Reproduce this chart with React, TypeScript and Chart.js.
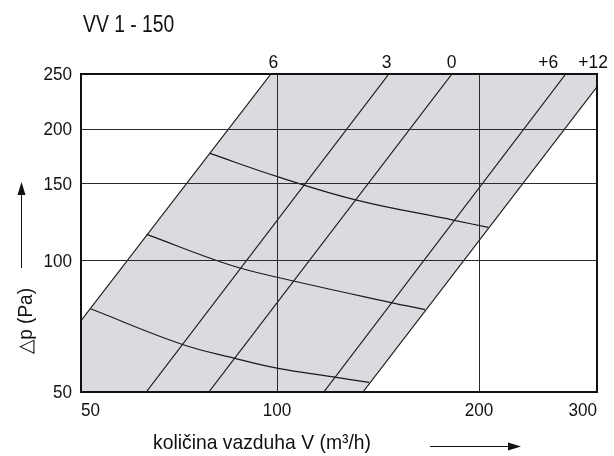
import React, { useEffect, useRef } from 'react';
import { Chart, registerables } from 'chart.js';

Chart.register(...registerables);

const FONT = "'Liberation Sans', Arial, sans-serif";

// Titles
const TITLE = 'VV 1 - 150';
const X_TITLE = 'količina vazduha V (m³/h)';
const Y_TITLE = '△p (Pa)';

// Axis ranges (log-log) and tick labels as printed
const X_MIN = 51;
const X_MAX = 300;
const Y_MIN = 50;
const Y_MAX = 267;
const X_TICKS = [51, 100, 200, 300];
const X_TICK_LABELS = ['50', '100', '200', '300'];
const X_GRID = [100, 200];
const Y_TICKS = [50, 100, 150, 200, 267];
const Y_TICK_LABELS = ['50', '100', '150', '200', '250'];
const Y_GRID = [100, 150, 200];

// Diagonal (setting) lines: Δp ∝ V²
const DIAG_NAMES = ['6', '3', '0', '+6', '+12'];
const DIAG_LABEL_X = [98.7, 145.7, 182.1, 253.7, 296.0];
const DIAG_6 = [{ x: 51, y: 72.8 }, { x: 97.9, y: 267 }];
const DIAG_3 = [{ x: 63.8, y: 50 }, { x: 146.8, y: 267 }];
const DIAG_0 = [{ x: 79.1, y: 50 }, { x: 182.3, y: 267 }];
const DIAG_P6 = [{ x: 117.4, y: 50 }, { x: 269.5, y: 267 }];
const DIAG_P12 = [{ x: 134.3, y: 50 }, { x: 300, y: 249.5 }];

// Shaded working region
const REGION = [
  { x: 51, y: 72.8 },
  { x: 97.9, y: 267 },
  { x: 300, y: 267 },
  { x: 300, y: 249.5 },
  { x: 134.3, y: 50 },
  { x: 51, y: 50 },
];

// Curved lines
const CURVE_1 = [
  { x: 79.4, y: 175.7 },
  { x: 100.4, y: 155.3 },
  { x: 131.4, y: 137.4 },
  { x: 183.1, y: 123.7 },
  { x: 206.5, y: 119.0 },
];
const CURVE_2 = [
  { x: 63.9, y: 114.7 },
  { x: 85.1, y: 97.6 },
  { x: 100.4, y: 91.4 },
  { x: 147.3, y: 80.2 },
  { x: 166.2, y: 77.2 },
];
const CURVE_3 = [
  { x: 52.7, y: 77.5 },
  { x: 72.1, y: 64.3 },
  { x: 86.5, y: 59.7 },
  { x: 100.4, y: 56.6 },
  { x: 120.6, y: 54.2 },
  { x: 137.2, y: 52.6 },
];

const LINE_COLOR = '#1a1a1a';
const FILL_COLOR = '#dadbde';
const TEXT_COLOR = '#111';

function drawText(
  ctx: CanvasRenderingContext2D,
  text: string,
  x: number,
  y: number,
  size: number,
  sx: number,
  align: CanvasTextAlign,
  baseline: CanvasTextBaseline = 'alphabetic'
) {
  ctx.save();
  ctx.font = `${size}px ${FONT}`;
  ctx.textAlign = align;
  ctx.textBaseline = baseline;
  ctx.translate(x, y);
  ctx.scale(sx, 1);
  ctx.fillText(text, 0, 0);
  ctx.restore();
}

export default function App() {
  const ref = useRef<HTMLCanvasElement>(null);

  useEffect(() => {
    const canvas = ref.current!;
    const overlay = {
      id: 'overlay',
      afterDatasetsDraw(chart: any) {
        const ctx = chart.ctx as CanvasRenderingContext2D;
        const ca = chart.chartArea;
        const xs = chart.scales.x;
        const ys = chart.scales.y;
        ctx.save();
        ctx.strokeStyle = '#2a2a2a';
        ctx.lineWidth = 1;
        X_GRID.forEach((v) => {
          const px = Math.round(xs.getPixelForValue(v)) + 0.5;
          ctx.beginPath();
          ctx.moveTo(px, ca.top);
          ctx.lineTo(px, ca.bottom);
          ctx.stroke();
        });
        Y_GRID.forEach((v) => {
          const py = Math.round(ys.getPixelForValue(v)) + 0.5;
          ctx.beginPath();
          ctx.moveTo(ca.left, py);
          ctx.lineTo(ca.right, py);
          ctx.stroke();
        });
        ctx.restore();
      },
      afterDraw(chart: any) {
        const ctx = chart.ctx as CanvasRenderingContext2D;
        const ca = chart.chartArea;
        const xs = chart.scales.x;
        const ys = chart.scales.y;
        ctx.save();
        ctx.strokeStyle = '#111';
        ctx.lineWidth = 2;
        ctx.strokeRect(ca.left, ca.top, ca.right - ca.left, ca.bottom - ca.top);

        ctx.fillStyle = TEXT_COLOR;
        // labels of the diagonal lines
        DIAG_NAMES.forEach((n, i) => {
          drawText(ctx, n, xs.getPixelForValue(DIAG_LABEL_X[i]), 68, 19, 0.92, 'center');
        });
        // y tick labels
        Y_TICKS.forEach((v, i) => {
          drawText(ctx, Y_TICK_LABELS[i], ca.left - 9, ys.getPixelForValue(v) + 1, 19, 0.9, 'right', 'middle');
        });
        // x tick labels (inner aligned)
        X_TICKS.forEach((v, i) => {
          const align: CanvasTextAlign = i === 0 ? 'left' : i === X_TICKS.length - 1 ? 'right' : 'center';
          drawText(ctx, X_TICK_LABELS[i], xs.getPixelForValue(v), 416, 19, 0.9, align);
        });

        drawText(ctx, TITLE, 83, 32, 23, 0.84, 'left');
        drawText(ctx, X_TITLE, 153, 449, 21, 0.92, 'left');

        // x arrow
        ctx.strokeStyle = '#111';
        ctx.lineWidth = 1;
        ctx.beginPath();
        ctx.moveTo(430, 446.5);
        ctx.lineTo(510, 446.5);
        ctx.stroke();
        ctx.beginPath();
        ctx.moveTo(521, 446.5);
        ctx.lineTo(508, 442.5);
        ctx.lineTo(508, 450.5);
        ctx.closePath();
        ctx.fill();

        // y arrow
        ctx.beginPath();
        ctx.moveTo(21.5, 268);
        ctx.lineTo(21.5, 192);
        ctx.stroke();
        ctx.beginPath();
        ctx.moveTo(21.5, 182);
        ctx.lineTo(17.5, 195);
        ctx.lineTo(25.5, 195);
        ctx.closePath();
        ctx.fill();

        ctx.translate(26, 321);
        ctx.rotate(-Math.PI / 2);
        drawText(ctx, Y_TITLE, 0, 0, 20, 0.95, 'center', 'middle');
        ctx.restore();
      },
    };

    const lineDs = (data: { x: number; y: number }[], smooth = false) => ({
      data,
      order: 0,
      borderColor: LINE_COLOR,
      borderWidth: 1.2,
      pointRadius: 0,
      fill: false,
      tension: smooth ? 0.4 : 0,
    });

    const chart = new Chart(canvas, {
      type: 'line',
      data: {
        datasets: [
          {
            data: REGION,
            order: 10,
            borderWidth: 0,
            borderColor: 'rgba(0,0,0,0)',
            backgroundColor: FILL_COLOR,
            pointRadius: 0,
            fill: 'shape',
            tension: 0,
          } as any,
          lineDs(DIAG_6),
          lineDs(DIAG_3),
          lineDs(DIAG_0),
          lineDs(DIAG_P6),
          lineDs(DIAG_P12),
          lineDs(CURVE_1, true),
          lineDs(CURVE_2, true),
          lineDs(CURVE_3, true),
        ],
      },
      options: {
        animation: false,
        responsive: false,
        devicePixelRatio: 1,
        layout: { padding: { left: 0, top: 74, right: 17, bottom: 24 } },
        plugins: {
          legend: { display: false },
          tooltip: { enabled: false },
          title: { display: false },
        },
        scales: {
          x: {
            type: 'logarithmic',
            min: X_MIN,
            max: X_MAX,
            afterFit: (s: any) => {
              s.height = 40;
            },
            afterBuildTicks: (s: any) => {
              s.ticks = X_TICKS.map((v) => ({ value: v }));
            },
            ticks: { display: false },
            grid: { display: false },
            border: { display: false },
          },
          y: {
            type: 'logarithmic',
            min: Y_MIN,
            max: Y_MAX,
            afterFit: (s: any) => {
              s.width = 81;
            },
            afterBuildTicks: (s: any) => {
              s.ticks = Y_TICKS.map((v) => ({ value: v }));
            },
            ticks: { display: false },
            grid: { display: false },
            border: { display: false },
          },
        },
      } as any,
      plugins: [overlay],
    });
    return () => chart.destroy();
  }, []);

  return (
    <div style={{ position: 'absolute', left: 0, top: 0, width: 614, height: 456, background: '#fff' }}>
      <canvas ref={ref} width={614} height={456} />
    </div>
  );
}
